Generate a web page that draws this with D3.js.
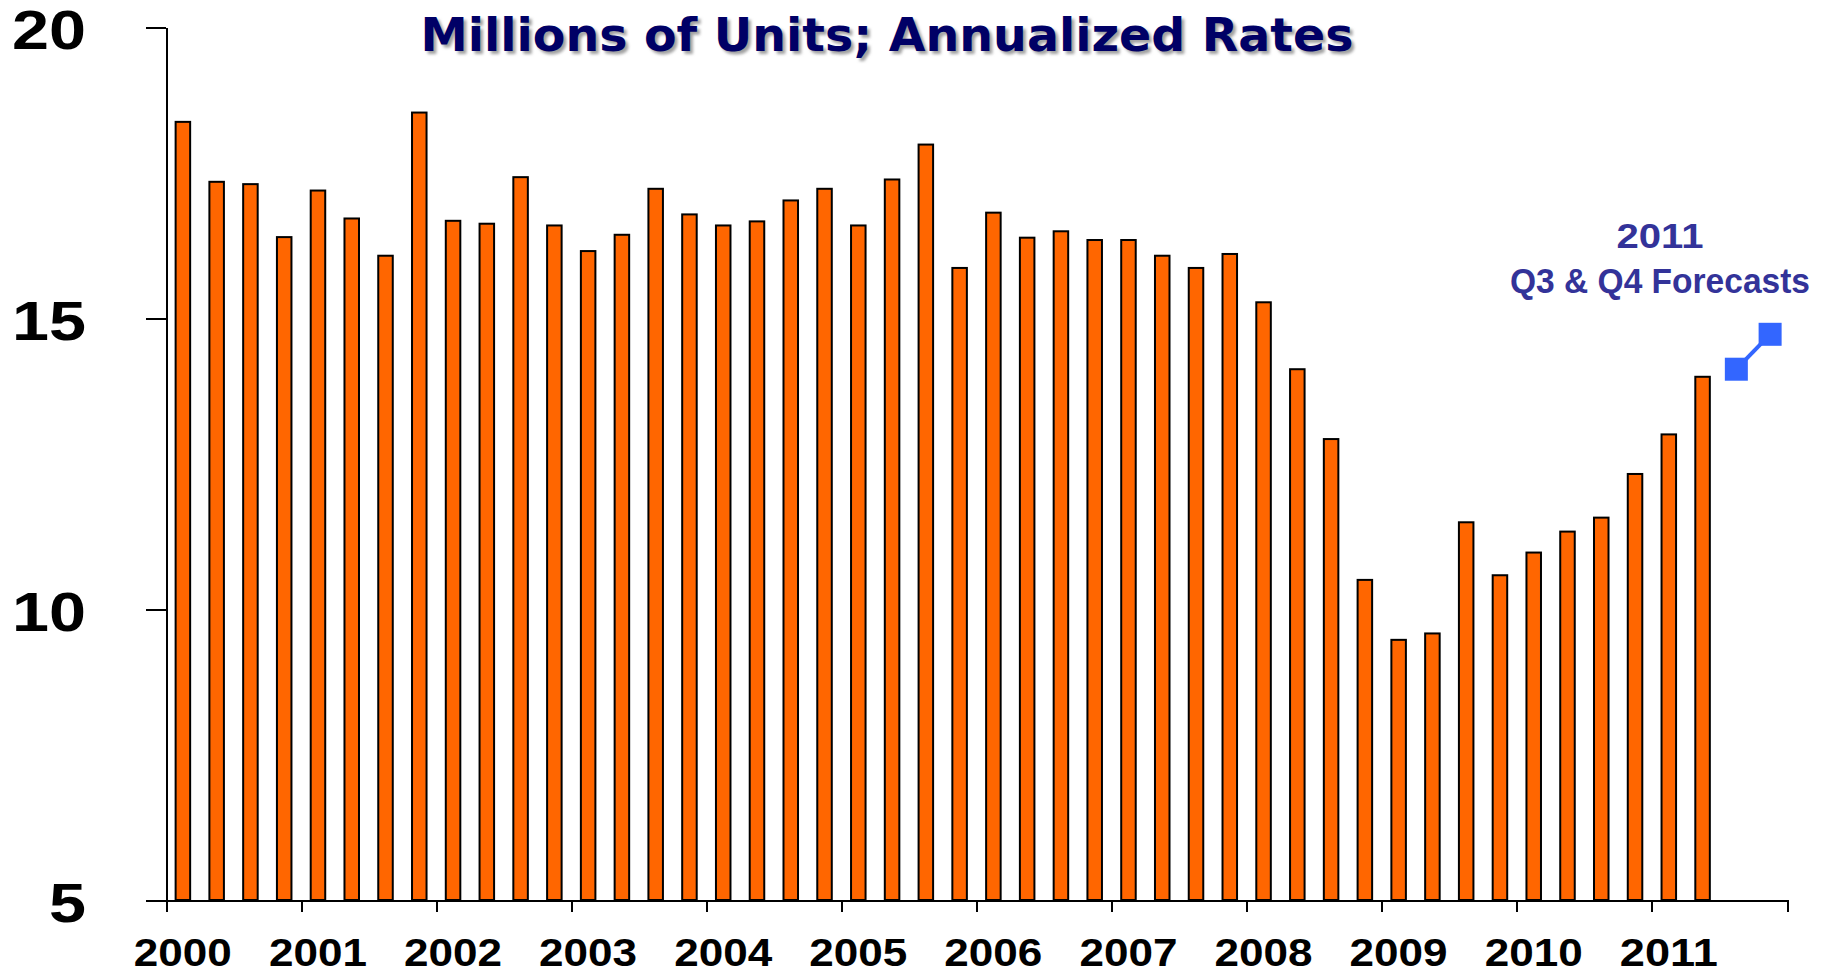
<!DOCTYPE html>
<html>
<head>
<meta charset="utf-8">
<script src="https://cdn.jsdelivr.net/npm/d3@7"></script>
<style>
  body { margin: 0; background: #fff; }
  svg { display: block; }
  .axis path, .axis line { stroke: #000; stroke-width: 2px; shape-rendering: crispEdges; }
  .bar { fill: #ff6600; stroke: #000; stroke-width: 2px; }
</style>
</head>
<body>
<svg width="1825" height="971"></svg>
<script>
var years = ["2000", "2001", "2002", "2003", "2004", "2005", "2006", "2007", "2008", "2009", "2010", "2011"];
var quarterNames = ["Q1", "Q2", "Q3", "Q4"];

// actual sales, 2000Q1 .. 2011Q2
var sales = [18.37, 17.34, 17.30, 16.39, 17.19, 16.71, 16.07, 18.53,
             16.67, 16.62, 17.42, 16.59, 16.15, 16.43, 17.22, 16.78,
             16.59, 16.66, 17.02, 17.22, 16.59, 17.38, 17.98, 15.86,
             16.81, 16.38, 16.49, 16.34, 16.34, 16.07, 15.86, 16.10,
             15.27, 14.12, 12.92, 10.50, 9.47, 9.58, 11.49, 10.58,
             10.97, 11.33, 11.57, 12.32, 13.00, 13.99];

var forecastQuarters = ["2011Q3", "2011Q4"];
var forecast = [14.12, 14.72];

var yTicks = [5, 10, 15, 20];

var title = "Millions of Units; Annualized Rates";
var noteLines = ["2011", "Q3 & Q4 Forecasts"];

var quarters = [];
years.forEach(function(yr) {
    quarterNames.forEach(function(q) { quarters.push(yr + q); });
});

var svg = d3.select("svg");

var plotLeft = 166, plotRight = 1787, plotTop = 27, plotBottom = 900;

var x = d3.scaleBand()
    .domain(quarters)
    .range([plotLeft, plotRight])
    .paddingInner(0.57)
    .paddingOuter(0.285);

var xPos = d3.scaleLinear()
    .domain([0, quarters.length])
    .range([plotLeft, plotRight]);

var y = d3.scaleLinear()
    .domain([5, 20])
    .range([plotBottom, plotTop]);

// title with soft shadow
var defs = svg.append("defs");
defs.append("filter")
    .attr("id", "blur")
    .append("feGaussianBlur")
    .attr("stdDeviation", 1.6);

[["#a0a0a0", 3, "url(#blur)"], ["#000066", 0, null]].forEach(function(t) {
    svg.append("text")
        .attr("x", 887 + t[1])
        .attr("y", 51 + t[1])
        .attr("text-anchor", "middle")
        .attr("font-family", "DejaVu Sans")
        .attr("font-weight", "bold")
        .attr("font-size", 47)
        .attr("textLength", 933)
        .attr("lengthAdjust", "spacingAndGlyphs")
        .attr("fill", t[0])
        .attr("filter", t[2])
        .text(title);
});

// bars
svg.append("g")
    .selectAll("rect")
    .data(sales)
    .enter().append("rect")
    .attr("class", "bar")
    .attr("x", function(d, i) { return x(quarters[i]); })
    .attr("width", x.bandwidth())
    .attr("y", function(d) { return y(d); })
    .attr("height", function(d) { return y(5) - y(d); });

// axes
var yAxis = svg.append("g")
    .attr("class", "axis")
    .attr("transform", "translate(" + plotLeft + ",0)")
    .call(d3.axisLeft(y).tickValues(yTicks).tickSize(20).tickSizeOuter(0).tickFormat(""));

yAxis.selectAll(".tick").append("text")
    .attr("x", -80)
    .attr("y", 21)
    .attr("text-anchor", "end")
    .attr("fill", "#000")
    .attr("font-family", "Liberation Sans")
    .attr("font-weight", "bold")
    .attr("font-size", 56)
    .attr("textLength", function(d) { return String(d).length * 37; })
    .attr("lengthAdjust", "spacingAndGlyphs")
    .text(function(d) { return d; });

svg.append("g")
    .attr("class", "axis")
    .attr("transform", "translate(0," + plotBottom + ")")
    .call(d3.axisBottom(xPos).tickValues(d3.range(0, quarters.length + 1, 4)).tickSize(12).tickSizeOuter(0).tickFormat(""));

svg.append("g")
    .selectAll("text")
    .data(years)
    .enter().append("text")
    .attr("x", function(d) { return x(d + "Q1") + x.bandwidth() / 2; })
    .attr("y", 966)
    .attr("text-anchor", "middle")
    .attr("font-family", "Liberation Sans")
    .attr("font-weight", "bold")
    .attr("font-size", 38)
    .attr("textLength", 98)
    .attr("lengthAdjust", "spacingAndGlyphs")
    .text(function(d) { return d; });

// forecast line and markers
var fc = forecast.map(function(v, i) {
    return [x(forecastQuarters[i]) + x.bandwidth() / 2, y(v)];
});

svg.append("path")
    .attr("d", d3.line()(fc))
    .attr("fill", "none")
    .attr("stroke", "#3366ff")
    .attr("stroke-width", 4);

svg.append("g")
    .selectAll("rect")
    .data(fc)
    .enter().append("rect")
    .attr("x", function(d) { return d[0] - 11.5; })
    .attr("y", function(d) { return d[1] - 11.5; })
    .attr("width", 23)
    .attr("height", 23)
    .attr("fill", "#3366ff");

// annotation
svg.append("g")
    .selectAll("text")
    .data(noteLines)
    .enter().append("text")
    .attr("x", 1660)
    .attr("y", function(d, i) { return 248 + i * 45; })
    .attr("text-anchor", "middle")
    .attr("font-family", "Liberation Sans")
    .attr("font-weight", "bold")
    .attr("font-size", 35)
    .attr("textLength", function(d, i) { return i == 0 ? 87 : 300; })
    .attr("lengthAdjust", "spacingAndGlyphs")
    .attr("fill", "#333399")
    .text(function(d) { return d; });
</script>
</body>
</html>
